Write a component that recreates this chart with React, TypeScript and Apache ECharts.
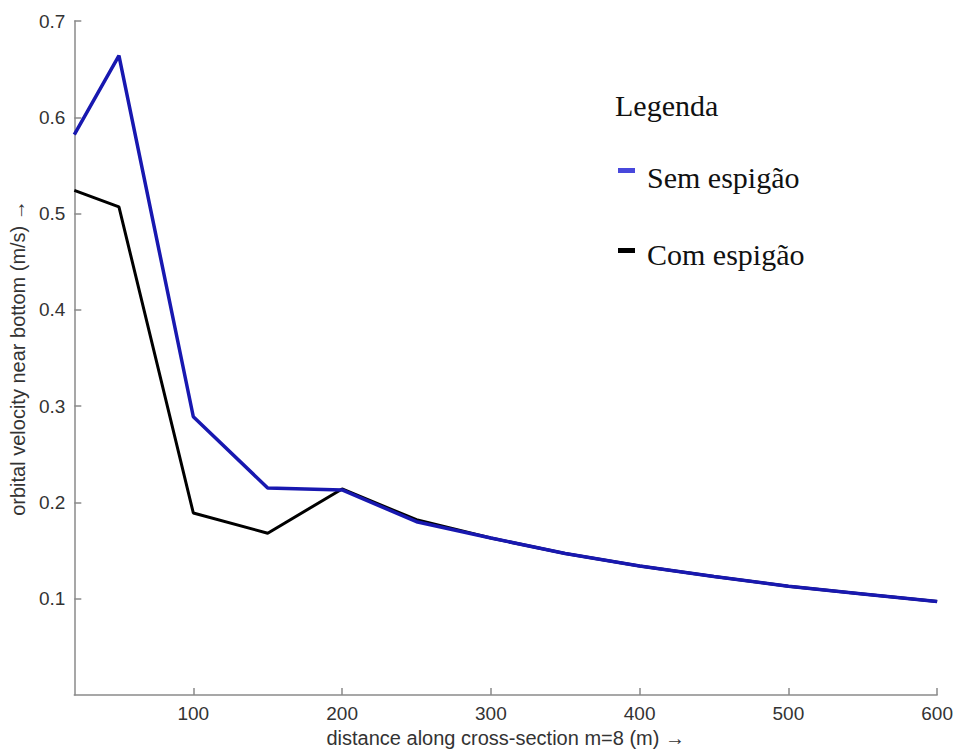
import React, { useEffect, useRef } from "react";
import * as echarts from "echarts";

const distance = [20, 50, 100, 150, 200, 250, 300, 350, 400, 450, 500, 550, 600];
const semEspigao = [0.582, 0.664, 0.289, 0.215, 0.213, 0.180, 0.163, 0.147, 0.134, 0.123, 0.113, 0.105, 0.097];
const comEspigao = [0.524, 0.507, 0.189, 0.168, 0.214, 0.182, 0.163, 0.147, 0.134, 0.123, 0.113, 0.105, 0.097];
const xTicks = [100, 200, 300, 400, 500, 600];
const yTicks = [0.1, 0.2, 0.3, 0.4, 0.5, 0.6, 0.7];
const legendTitle = "Legenda";
const seriesNames = ["Sem espigão", "Com espigão"];

export default function App() {
  const ref = useRef<HTMLDivElement>(null);
  useEffect(() => {
    if (!ref.current) return;
    const chart = echarts.init(ref.current, null, { renderer: "svg" });
    const sans = "'Liberation Sans', Arial, sans-serif";
    const serif = "'Liberation Serif', 'Times New Roman', serif";
    const axisLine = { show: true, lineStyle: { color: "#8a8a8a", width: 1.5 } };
    chart.setOption({
      animation: false,
      backgroundColor: "#ffffff",
      grid: { left: 72, right: 18, top: 21, bottom: 54, containLabel: false },
      xAxis: {
        type: "value",
        min: 20,
        max: 600,
        name: "distance along cross-section m=8 (m) →",
        nameLocation: "middle",
        nameGap: 33,
        nameTextStyle: { fontFamily: sans, fontSize: 20, color: "#333" },
        axisLine,
        axisTick: { show: true, inside: true, length: 7, customValues: xTicks, lineStyle: { color: "#8a8a8a", width: 1.5 } },
        axisLabel: { customValues: xTicks, fontFamily: sans, fontSize: 19, color: "#333", margin: 9 },
        splitLine: { show: false },
      },
      yAxis: {
        type: "value",
        min: 0,
        max: 0.7,
        name: "orbital velocity near bottom (m/s) →",
        nameLocation: "middle",
        nameGap: 42,
        nameTextStyle: { fontFamily: sans, fontSize: 20, color: "#333" },
        axisLine,
        axisTick: { show: true, inside: true, length: 7, customValues: yTicks, lineStyle: { color: "#8a8a8a", width: 1.5 } },
        axisLabel: { customValues: yTicks, fontFamily: sans, fontSize: 19, color: "#333", margin: 9 },
        splitLine: { show: false },
      },
      series: [
        {
          name: seriesNames[1],
          type: "line",
          data: distance.map((d, i) => [d, comEspigao[i]]),
          showSymbol: false,
          lineStyle: { color: "#000000", width: 3 },
          itemStyle: { color: "#000000" },
          z: 2,
        },
        {
          name: seriesNames[0],
          type: "line",
          data: distance.map((d, i) => [d, semEspigao[i]]),
          showSymbol: false,
          lineStyle: { color: "#1818b0", width: 3.5 },
          itemStyle: { color: "#1818b0" },
          z: 3,
        },
      ],
      graphic: [
        { type: "text", left: 615, top: 90, style: { text: legendTitle, font: `30px ${serif}`, fill: "#111" } },
        { type: "rect", left: 618, top: 168, shape: { width: 17, height: 5 }, style: { fill: "#4848dc" } },
        { type: "text", left: 647, top: 162, style: { text: seriesNames[0], font: `30px ${serif}`, fill: "#111" } },
        { type: "rect", left: 618, top: 248, shape: { width: 17, height: 5 }, style: { fill: "#000" } },
        { type: "text", left: 647, top: 239, style: { text: seriesNames[1], font: `30px ${serif}`, fill: "#111" } },
      ],
    });
    return () => chart.dispose();
  }, []);
  return <div ref={ref} style={{ position: "absolute", left: 0, top: 0, width: 956, height: 753 }} />;
}
